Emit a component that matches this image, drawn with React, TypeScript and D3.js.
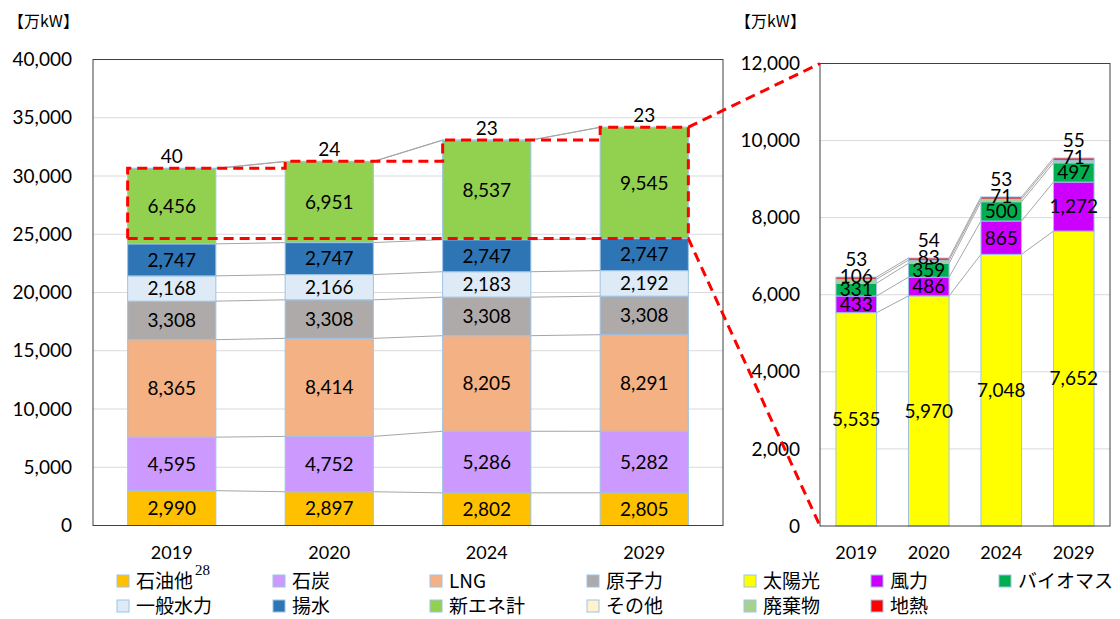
import React, { useEffect, useRef } from "react";
import * as d3 from "d3";

const years = ["2019", "2020", "2024", "2029"];

// left chart: total capacity by source
const mainSeries = ["石油他", "石炭", "LNG", "原子力", "一般水力", "揚水", "新エネ計", "その他"];
const mainColors = ["#FFC000", "#CC99FF", "#F4B183", "#AEAAAA", "#DEEBF7", "#2E75B6", "#92D050", "#FFF2CC"];
const oil = [2990, 2897, 2802, 2805];
const coal = [4595, 4752, 5286, 5282];
const lng = [8365, 8414, 8205, 8291];
const nuclear = [3308, 3308, 3308, 3308];
const hydro = [2168, 2166, 2183, 2192];
const pumped = [2747, 2747, 2747, 2747];
const newEnergy = [6456, 6951, 8537, 9545];
const other = [40, 24, 23, 23];
const leftTicks = [0, 5000, 10000, 15000, 20000, 25000, 30000, 35000, 40000];

// right chart: breakdown of 新エネ計
const reSeries = ["太陽光", "風力", "バイオマス", "廃棄物", "地熱"];
const reColors = ["#FFFF00", "#CC00FF", "#00B050", "#A9D18E", "#FF0000"];
const solar = [5535, 5970, 7048, 7652];
const wind = [433, 486, 865, 1272];
const biomass = [331, 359, 500, 497];
const waste = [106, 83, 71, 71];
const geothermal = [53, 54, 53, 55];
const rightTicks = [0, 2000, 4000, 6000, 8000, 10000, 12000];

const numFont = "Lato, 'Noto Sans', sans-serif";
const jpFont = "'Noto Sans CJK JP', sans-serif";
const fmt = d3.format(",");

type Sel = d3.Selection<SVGSVGElement, unknown, null, undefined>;

type Cfg = {
  x0: number;
  x1: number;
  yTop: number;
  yBottom: number;
  ticks: number[];
  series: string[];
  colors: string[];
  values: number[][];
  tickX: number;
  unitX: number;
};

function drawChart(svg: Sel, cfg: Cfg) {
  const { x0, x1, yTop, yBottom, ticks, series, colors, values } = cfg;
  const x = d3.scaleBand().domain(years).range([x0, x1]).paddingInner(0.44).paddingOuter(0.22);
  const y = d3
    .scaleLinear()
    .domain([0, ticks[ticks.length - 1]])
    .range([yBottom, yTop]);

  const rows = years.map((year, i) => {
    const r: any = { year };
    series.forEach((s, j) => (r[s] = values[j][i]));
    return r;
  });
  const stacked = d3.stack<any>().keys(series)(rows);
  const bw = x.bandwidth();

  // gridlines
  svg
    .append("g")
    .selectAll("line")
    .data(ticks.slice(1, -1))
    .join("line")
    .attr("x1", x0)
    .attr("x2", x1)
    .attr("y1", (d) => y(d))
    .attr("y2", (d) => y(d))
    .attr("stroke", "#D9D9D9")
    .attr("stroke-width", 1);

  // series lines between bars
  const sl = svg.append("g").attr("stroke", "#A6A6A6").attr("stroke-width", 1);
  stacked.forEach((layer) => {
    for (let i = 0; i < years.length - 1; i++) {
      sl.append("line")
        .attr("x1", x(years[i])! + bw)
        .attr("y1", y(layer[i][1]))
        .attr("x2", x(years[i + 1])!)
        .attr("y2", y(layer[i + 1][1]));
    }
  });

  // bars
  stacked.forEach((layer, j) => {
    svg
      .append("g")
      .selectAll("rect")
      .data(layer)
      .join("rect")
      .attr("x", (d) => x(d.data.year)!)
      .attr("y", (d) => y(d[1]))
      .attr("width", bw)
      .attr("height", (d) => y(d[0]) - y(d[1]))
      .attr("fill", colors[j])
      .attr("stroke", "#9DC3E6")
      .attr("stroke-width", 1);
  });

  // plot border
  svg
    .append("rect")
    .attr("x", x0)
    .attr("y", yTop)
    .attr("width", x1 - x0)
    .attr("height", yBottom - yTop)
    .attr("fill", "none")
    .attr("stroke", "#404040")
    .attr("stroke-width", 1);

  // y tick labels
  svg
    .append("g")
    .selectAll("text")
    .data(ticks)
    .join("text")
    .attr("x", cfg.tickX)
    .attr("y", (d) => y(d))
    .attr("dy", "0.35em")
    .attr("text-anchor", "end")
    .attr("font-family", numFont)
    .attr("font-size", 19)
    .attr("fill", "#000")
    .text((d) => fmt(d));

  // x labels
  svg
    .append("g")
    .selectAll("text")
    .data(years)
    .join("text")
    .attr("x", (d) => x(d)! + bw / 2)
    .attr("y", 553)
    .attr("dy", "0.35em")
    .attr("text-anchor", "middle")
    .attr("font-family", numFont)
    .attr("font-size", 18)
    .text((d) => d);

  // unit
  svg
    .append("text")
    .attr("x", cfg.unitX)
    .attr("y", 21)
    .attr("dy", "0.35em")
    .attr("font-family", jpFont)
    .attr("font-size", 16)
    .text("【万kW】");

  return { x, y, stacked, bw };
}

function addLabel(svg: Sel, cx: number, cy: number, v: number) {
  svg
    .append("text")
    .attr("x", cx)
    .attr("y", cy)
    .attr("dy", "0.36em")
    .attr("text-anchor", "middle")
    .attr("font-family", numFont)
    .attr("font-size", 19)
    .attr("fill", "#000")
    .text(fmt(v));
}

function drawLegend(svg: Sel, names: string[], colors: string[], cols: number[], perRow: number) {
  const rowsY = [581, 606];
  names.forEach((n, i) => {
    const cx = cols[i % perRow];
    const cy = rowsY[Math.floor(i / perRow)];
    svg
      .append("rect")
      .attr("x", cx)
      .attr("y", cy - 6)
      .attr("width", 12)
      .attr("height", 12)
      .attr("fill", colors[i])
      .attr("stroke", "#9DC3E6")
      .attr("stroke-width", 1);
    svg
      .append("text")
      .attr("x", cx + 19)
      .attr("y", cy)
      .attr("dy", "0.36em")
      .attr("font-family", jpFont)
      .attr("font-size", 19)
      .text(n);
  });
}

const App: React.FC = () => {
  const svgRef = useRef<SVGSVGElement | null>(null);

  useEffect(() => {
    if (!svgRef.current) return;
    const svg = d3.select(svgRef.current);
    svg.selectAll("*").remove();

    const left = drawChart(svg, {
      x0: 93,
      x1: 723,
      yTop: 59.5,
      yBottom: 525.5,
      ticks: leftTicks,
      series: mainSeries,
      colors: mainColors,
      values: [oil, coal, lng, nuclear, hydro, pumped, newEnergy, other],
      tickX: 72,
      unitX: 8,
    });

    const right = drawChart(svg, {
      x0: 820,
      x1: 1110,
      yTop: 63.5,
      yBottom: 526,
      ticks: rightTicks,
      series: reSeries,
      colors: reColors,
      values: [solar, wind, biomass, waste, geothermal],
      tickX: 800,
      unitX: 735,
    });

    // left data labels: centred, その他 above the bar
    left.stacked.forEach((layer, j) => {
      layer.forEach((d) => {
        const cx = left.x(d.data.year)! + left.bw / 2;
        const v = d[1] - d[0];
        if (j === mainSeries.length - 1) addLabel(svg, cx, left.y(d[1]) - 12, v);
        else addLabel(svg, cx, (left.y(d[0]) + left.y(d[1])) / 2, v);
      });
    });

    // right data labels: thin top segments are lifted above the bar
    const rTop = right.stacked[right.stacked.length - 1];
    right.stacked.forEach((layer, j) => {
      layer.forEach((d, i) => {
        const cx = right.x(d.data.year)! + right.bw / 2;
        const v = d[1] - d[0];
        const top = right.y(rTop[i][1]);
        if (j === 3) addLabel(svg, cx, top - 1, v);
        else if (j === 4) addLabel(svg, cx, top - 18, v);
        else addLabel(svg, cx, (right.y(d[0]) + right.y(d[1])) / 2, v);
      });
    });

    // red dashed highlight around 新エネ計 and zoom lines
    const topLayer = left.stacked[left.stacked.length - 1];
    const greenLayer = left.stacked[mainSeries.indexOf("新エネ計")];
    const bottomVal = d3.max(greenLayer, (d) => d[0]) || 0;
    const lx = (i: number) => left.x(years[i])!;
    const yb = left.y(bottomVal);
    const pts: [number, number][] = [[lx(0), yb], [lx(0), left.y(topLayer[0][1])]];
    for (let i = 1; i < years.length; i++) {
      pts.push([lx(i), left.y(topLayer[i - 1][1])]);
      pts.push([lx(i), left.y(topLayer[i][1])]);
    }
    const last = years.length - 1;
    const rx = lx(last) + left.bw;
    pts.push([rx, left.y(topLayer[last][1])]);
    pts.push([820, right.y(12000)]);

    const dash = svg
      .append("g")
      .attr("fill", "none")
      .attr("stroke", "#FF0000")
      .attr("stroke-width", 3)
      .attr("stroke-dasharray", "10,6");
    dash.append("path").attr("d", d3.line()(pts));
    dash.append("path").attr("d", d3.line()([[lx(0), yb], [rx, yb], [820, right.y(0)]]));
    dash.append("path").attr("d", d3.line()([[rx, left.y(topLayer[last][1])], [rx, yb]]));

    // legends
    drawLegend(svg, mainSeries, mainColors, [117, 273, 430, 587], 4);
    drawLegend(svg, reSeries, reColors, [744, 871, 999], 3);

    svg
      .append("text")
      .attr("x", 195)
      .attr("y", 575)
      .attr("font-family", "'Liberation Serif', serif")
      .attr("font-size", 15)
      .text("28");
  }, []);

  return (
    <svg
      ref={svgRef}
      width={1120}
      height={619}
      style={{ position: "absolute", left: 0, top: 0, background: "#fff" }}
    ></svg>
  );
};

export default App;
